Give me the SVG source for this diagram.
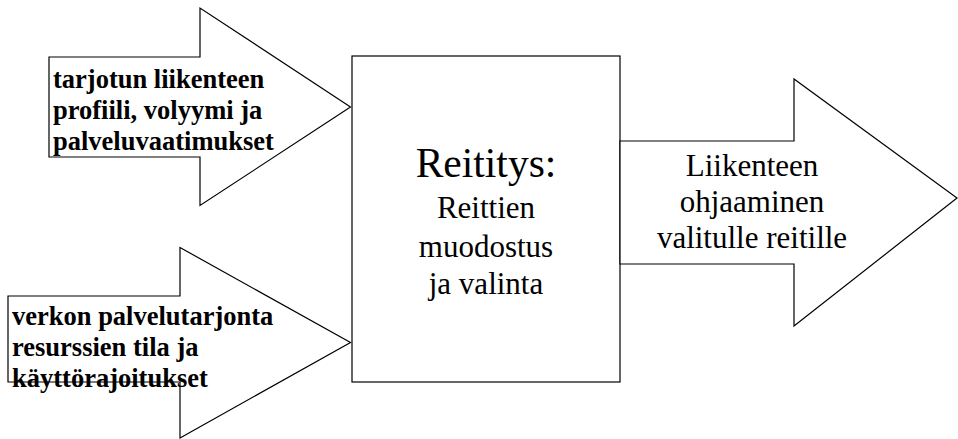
<svg xmlns="http://www.w3.org/2000/svg" width="958" height="439" viewBox="0 0 958 439">
<style>
.shape{fill:#fff;stroke:#000;stroke-width:1.2}
.b{font-weight:bold;font-size:26.5px;fill:#000}
.r{font-size:31px;text-anchor:middle;fill:#000}
</style>
<rect width="958" height="439" fill="#fff"/>
<g id="input-traffic">
<polygon class="shape" points="49,57 200,57 200,8 350.5,107 200,205.5 200,157 49,157"/>
<text class="b" x="53" y="87.5" font-family="Liberation Serif">tarjotun liikenteen</text>
<text class="b" x="53" y="119" font-family="Liberation Serif">profiili, volyymi ja</text>
<text class="b" x="53" y="149.5" font-family="Liberation Serif">palveluvaatimukset</text>
</g>
<g id="input-network">
<polygon class="shape" points="8,296 180,296 180,247.5 350.5,342.5 180,438 180,382 8,382"/>
<text class="b" x="12" y="325" font-family="Liberation Serif">verkon palvelutarjonta</text>
<text class="b" x="12" y="356" font-family="Liberation Serif">resurssien tila ja</text>
<text class="b" x="12" y="387" font-family="Liberation Serif">käyttörajoitukset</text>
</g>
<g id="routing">
<rect class="shape" x="352" y="56" width="268" height="326"/>
<text class="r" x="486" y="177" font-size="41.5" style="font-size:41.5px" font-family="Liberation Serif">Reititys:</text>
<text class="r" x="486" y="217.5" font-family="Liberation Serif">Reittien</text>
<text class="r" x="486" y="256.5" font-family="Liberation Serif">muodostus</text>
<text class="r" x="486" y="294" font-family="Liberation Serif">ja valinta</text>
</g>
<g id="output">
<polygon class="shape" points="620,141 794,141 794,79 957,198 794,326 794,264 620,264"/>
<text class="r" x="752" y="176" font-family="Liberation Serif">Liikenteen</text>
<text class="r" x="752" y="212" font-family="Liberation Serif">ohjaaminen</text>
<text class="r" x="752" y="247.5" font-family="Liberation Serif">valitulle reitille</text>
</g>
<g id="connectors"/>
</svg>
